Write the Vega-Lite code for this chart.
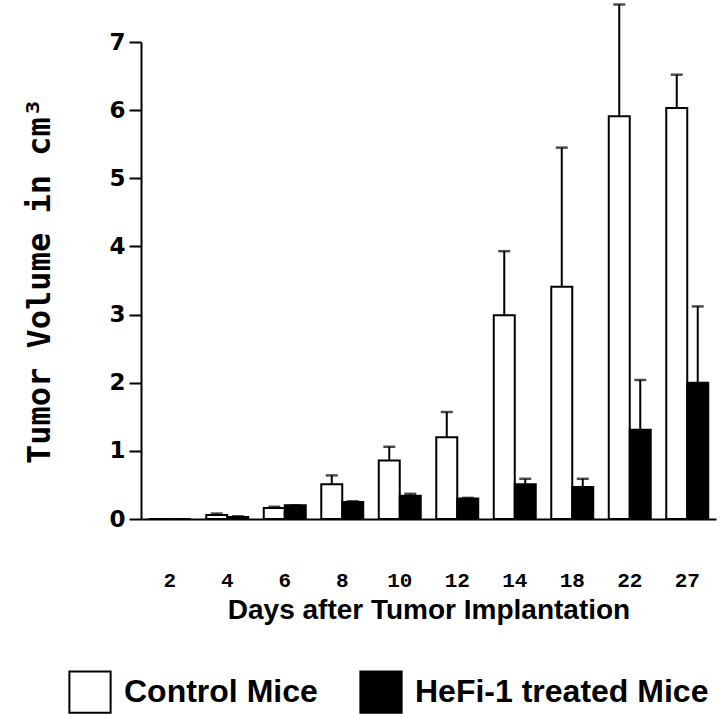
{
  "$schema": "https://vega.github.io/schema/vega-lite/v6.json",
  "width": 575,
  "height": 477,
  "autosize": "none",
  "padding": {"left": 141, "top": 42, "right": 4, "bottom": 195},
  "background": "white",
  "config": {"view": {"stroke": null}},
  "data": {
    "values": [
      {"day": "2", "group": "Control Mice", "volume": 0, "upper": null},
      {"day": "2", "group": "HeFi-1 treated Mice", "volume": 0, "upper": null},
      {"day": "4", "group": "Control Mice", "volume": 0.06, "upper": 0.08},
      {"day": "4", "group": "HeFi-1 treated Mice", "volume": 0.03, "upper": 0.04},
      {"day": "6", "group": "Control Mice", "volume": 0.16, "upper": 0.18},
      {"day": "6", "group": "HeFi-1 treated Mice", "volume": 0.2, "upper": 0.2},
      {"day": "8", "group": "Control Mice", "volume": 0.51, "upper": 0.64},
      {"day": "8", "group": "HeFi-1 treated Mice", "volume": 0.25, "upper": 0.26},
      {"day": "10", "group": "Control Mice", "volume": 0.86, "upper": 1.06},
      {"day": "10", "group": "HeFi-1 treated Mice", "volume": 0.34, "upper": 0.37},
      {"day": "12", "group": "Control Mice", "volume": 1.2, "upper": 1.57},
      {"day": "12", "group": "HeFi-1 treated Mice", "volume": 0.3, "upper": 0.31},
      {"day": "14", "group": "Control Mice", "volume": 2.99, "upper": 3.93},
      {"day": "14", "group": "HeFi-1 treated Mice", "volume": 0.51, "upper": 0.59},
      {"day": "18", "group": "Control Mice", "volume": 3.41, "upper": 5.45},
      {"day": "18", "group": "HeFi-1 treated Mice", "volume": 0.47, "upper": 0.59},
      {"day": "22", "group": "Control Mice", "volume": 5.91, "upper": 7.55},
      {"day": "22", "group": "HeFi-1 treated Mice", "volume": 1.31, "upper": 2.04},
      {"day": "27", "group": "Control Mice", "volume": 6.03, "upper": 6.52},
      {"day": "27", "group": "HeFi-1 treated Mice", "volume": 2.0, "upper": 3.12}
    ]
  },
  "encoding": {
    "x": {
      "field": "day",
      "type": "ordinal",
      "sort": ["2", "4", "6", "8", "10", "12", "14", "18", "22", "27"],
      "scale": {"paddingInner": 0.27, "paddingOuter": 0.135},
      "axis": {
        "title": "Days after Tumor Implantation",
        "titleFont": "Liberation Sans",
        "titleFontWeight": "bold",
        "titleFontSize": 28,
        "titleColor": "black",
        "titlePadding": 6,
        "labelFont": "Liberation Mono",
        "labelFontWeight": "bold",
        "labelFontSize": 21,
        "labelColor": "black",
        "labelAngle": 0,
        "labelPadding": 50,
        "ticks": false,
        "domainColor": "black",
        "domainWidth": 2
      }
    },
    "xOffset": {"field": "group", "type": "nominal", "scale": {"paddingInner": 0, "paddingOuter": 0}}
  },
  "layer": [
    {
      "mark": {"type": "rule", "stroke": "black", "strokeWidth": 2},
      "encoding": {
        "y": {"field": "volume", "type": "quantitative"},
        "y2": {"field": "upper"}
      }
    },
    {
      "mark": {"type": "tick", "color": "black", "thickness": 2.5, "size": 12, "orient": "horizontal"},
      "encoding": {
        "y": {"field": "upper", "type": "quantitative"}
      }
    },
    {
      "mark": {"type": "bar", "stroke": "black", "strokeWidth": 2},
      "encoding": {
        "y": {
          "field": "volume",
          "type": "quantitative",
          "scale": {"domain": [0, 7], "nice": false},
          "axis": {
            "title": "Tumor Volume in cm³",
            "titleFont": "DejaVu Sans Mono",
            "titleFontWeight": "bold",
            "titleFontSize": 32,
            "titleColor": "black",
            "titlePadding": 52,
            "values": [0, 1, 2, 3, 4, 5, 6, 7],
            "format": "d",
            "labelFont": "DejaVu Sans",
            "labelFontWeight": "bold",
            "labelFontSize": 23,
            "labelColor": "black",
            "labelPadding": 4,
            "tickSize": 12,
            "tickWidth": 2,
            "tickColor": "black",
            "domainColor": "black",
            "domainWidth": 2,
            "grid": false
          }
        },
        "fill": {
          "field": "group",
          "type": "nominal",
          "scale": {"domain": ["Control Mice", "HeFi-1 treated Mice"], "range": ["white", "black"]},
          "legend": {
            "title": null,
            "orient": "none",
            "direction": "horizontal",
            "legendX": -73,
            "legendY": 628,
            "padding": 0,
            "symbolType": "square",
            "symbolSize": 1700,
            "symbolStrokeColor": "black",
            "symbolStrokeWidth": 2,
            "labelFont": "Liberation Sans",
            "labelFontWeight": "bold",
            "labelFontSize": 32,
            "labelColor": "black",
            "labelOffset": 12,
            "columnPadding": 38,
            "labelLimit": 400
          }
        }
      }
    }
  ]
}
